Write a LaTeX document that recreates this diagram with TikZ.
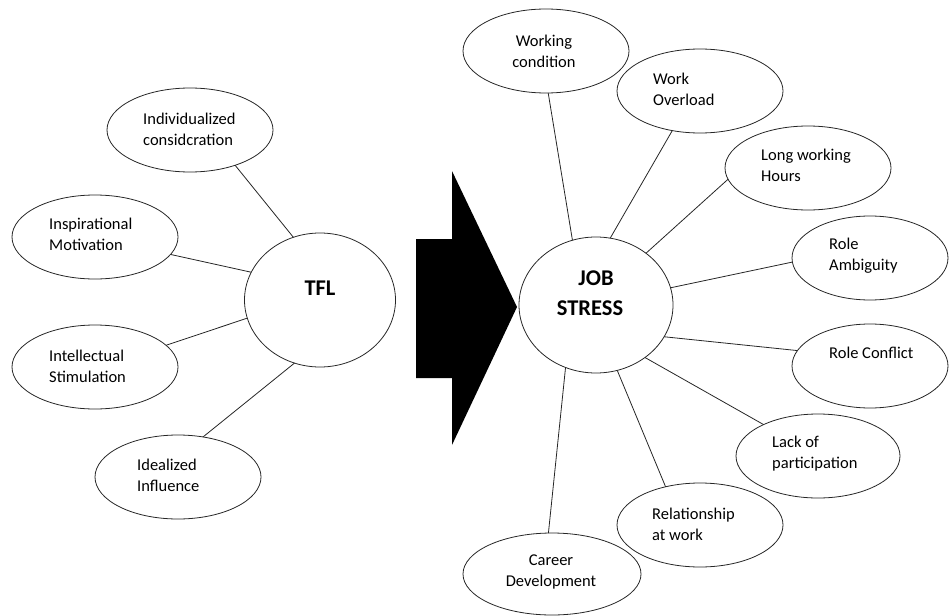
\documentclass[tikz,border=0pt]{standalone}
\usepackage{fontspec}
\setmainfont{Carlito}
\usetikzlibrary{shapes.geometric}
\tikzset{
  bub/.style={ellipse, draw=black!85, line width=0.8pt, minimum width=166pt, minimum height=84pt, inner sep=0pt, outer sep=0pt},
  lbl/.style={font=\fontsize{16.5}{21}\selectfont, align=left, anchor=west, inner sep=0pt, text=black},
  clbl/.style={font=\fontsize{16.5}{21}\selectfont, align=center, inner sep=0pt, text=black},
  hub/.style={ellipse, draw=black!85, line width=0.8pt, minimum width=154pt, minimum height=136pt, inner sep=0pt, outer sep=0pt},
  hublbl/.style={font=\fontsize{22.5}{30}\selectfont\bfseries, align=center, inner sep=0pt, text=black},
  link/.style={draw=black!85, line width=0.8pt}
}
\begin{document}
\begin{tikzpicture}[x=1pt,y=-1pt]
\useasboundingbox (0,0) rectangle (949,615);
% hubs
\node[hub, minimum width=151pt, minimum height=134pt] (tfl) at (320,300) {};
\node[hublbl] (tfltxt) at (320,288) {TFL};
\node[hub] (js) at (596,305) {};
\node[hublbl] (jstxt) at (590,293) {\hspace*{12pt}JOB\\STRESS};
% left bubbles
\node[bub] (l1) at (190,130) {};
\node[lbl] (l1t) at (143,129) {Individualized\\considcration};
\node[bub] (l2) at (95,237) {};
\node[lbl] (l2t) at (49,234) {Inspirational\\Motivation};
\node[bub] (l3) at (95,367) {};
\node[lbl] (l3t) at (49,366) {Intellectual\\Stimulation};
\node[bub] (l4) at (178,477) {};
\node[lbl] (l4t) at (137,475) {Idealized\\Influence};
% right bubbles
\node[bub] (r1) at (546,51) {};
\node[clbl] (r1t) at (544,51) {Working\\condition};
\node[bub] (r2) at (700,91) {};
\node[lbl] (r2t) at (653,89) {Work\\Overload};
\node[bub] (r3) at (808,168) {};
\node[lbl] (r3t) at (761,165) {Long working\\Hours};
\node[bub, minimum width=156pt] (r4) at (870,258) {};
\node[lbl] (r4t) at (829,256) {Role\\Ambiguity};
\node[bub, minimum width=156pt] (r5) at (870,366) {};
\node[lbl] (r5t) at (829,353) {Role Conflict};
\node[bub, minimum width=164pt] (r6) at (818,456) {};
\node[lbl] (r6t) at (772,454) {Lack of\\participation};
\node[bub] (r7) at (700,525) {};
\node[lbl] (r7t) at (652,524) {Relationship\\at work};
\node[bub, minimum width=178pt, minimum height=82pt] (r8) at (552,574) {};
\node[clbl] (r8t) at (551,572) {Career\\Development};
% big arrow
\fill[black] (416,239) -- (452,239) -- (452,171) -- (517,307) -- (452,445) -- (452,378) -- (416,378) -- cycle;
% left links
\draw[link] (l1.-38.3) -- (tfl.113);
\draw[link] (l2.-13.5) -- (tfl.158);
\draw[link] (l3.17.7) -- (tfl.194);
\draw[link] (l4.58.2) -- (tfl.248);
% right links
\draw[link] (r1.-87) -- (js.110.6);
\draw[link] (r2.235.4) -- (js.78.5);
\draw[link] (r3.188.2) -- (js.46.6);
\draw[link] (r4.183) -- (js.13.2);
\draw[link] (r5.168) -- (js.-25.5);
\draw[link] (r6.150.6) -- (js.-47.7);
\draw[link] (r7.132.8) -- (js.-72);
\draw[link] (r8.95.6) -- (js.244.6);
\end{tikzpicture}
\end{document}
